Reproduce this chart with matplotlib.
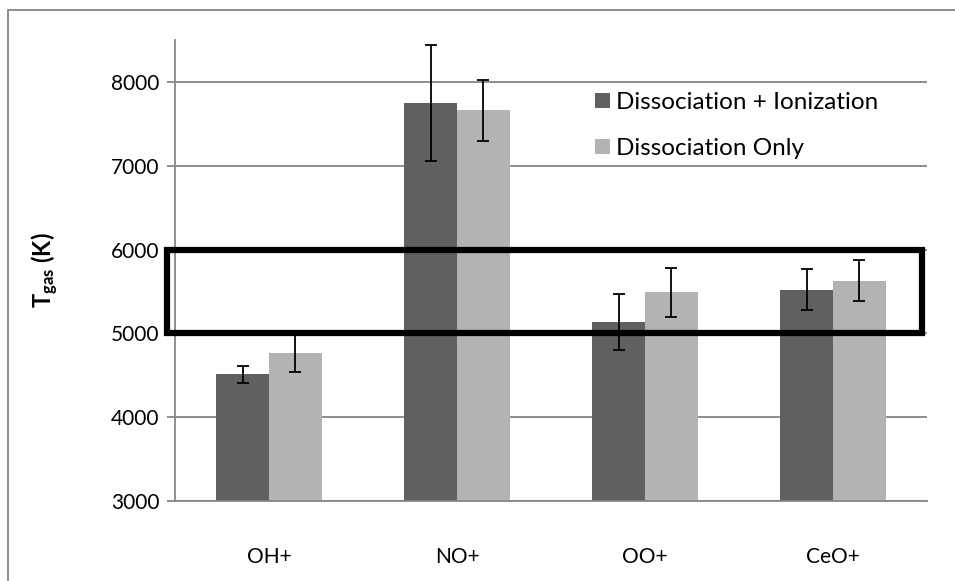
import matplotlib.pyplot as plt
import numpy as np
from matplotlib.patches import Rectangle

categories = ['OH+', 'NO+', 'OO+', 'CeO+']
ion_vals = [4510, 7750, 5140, 5520]
ion_err = [105, 690, 335, 245]
only_vals = [4760, 7660, 5490, 5630]
only_err = [220, 360, 295, 240]
labels = ['Dissociation + Ionization', 'Dissociation Only']

plt.rcParams['font.family'] = ['Lato', 'DejaVu Sans']
plt.rcParams['mathtext.fontset'] = 'custom'
plt.rcParams['mathtext.bf'] = 'Lato:bold'
plt.rcParams['mathtext.rm'] = 'Lato'

fig = plt.figure(figsize=(9.55, 5.81), dpi=100)
ax = fig.add_axes([0.1832, 0.1377, 0.7875, 0.7935])

x = np.arange(len(categories))
w = 0.28
ax.bar(x - w / 2, ion_vals, w, color='#606060', label=labels[0], zorder=2)
ax.bar(x + w / 2, only_vals, w, color='#b3b3b3', label=labels[1], zorder=2)
ax.errorbar(x - w / 2, ion_vals, yerr=ion_err, fmt='none', ecolor='black',
            elinewidth=1.3, capsize=4.3, capthick=1.3, zorder=3)
ax.errorbar(x + w / 2, only_vals, yerr=only_err, fmt='none', ecolor='black',
            elinewidth=1.3, capsize=4.3, capthick=1.3, zorder=3)

# highlighted range 5000-6000 K
ax.add_patch(Rectangle((-0.54, 5000), 4.015, 1000, fill=False,
                       edgecolor='black', linewidth=4.5, zorder=4, clip_on=False))

ax.set_xlim(-0.5, 3.5)
ax.set_ylim(3000, 8500)
ax.set_yticks([3000, 4000, 5000, 6000, 7000, 8000])
ax.set_xticks(x)
ax.set_xticklabels(categories)
ax.yaxis.grid(True, color='#868686', linewidth=1.3, zorder=0)
ax.set_axisbelow(True)
for s in ['top', 'right']:
    ax.spines[s].set_visible(False)
for s in ['left', 'bottom']:
    ax.spines[s].set_color('#868686')
    ax.spines[s].set_linewidth(1.3)
ax.tick_params(axis='y', length=6, color='#868686', width=1.3, labelsize=15, pad=5)
ax.tick_params(axis='x', length=0, labelsize=15, pad=33)

ax.set_ylabel(r'$\mathbf{T_{gas}}$ $\mathbf{(K)}$', fontsize=17, labelpad=36)

ax.legend(loc='upper left', bbox_to_anchor=(0.53, 0.935), frameon=False,
          fontsize=17.5, handlelength=0.6, handleheight=0.6,
          handletextpad=0.25, labelspacing=1.05)

# outer chart frame
fig.patches.append(Rectangle((8 / 955, -0.1), 2, 1 - 10 / 581 + 0.1, fill=False,
                             edgecolor='#868686', linewidth=1.3,
                             transform=fig.transFigure, figure=fig))

fig.savefig('out.png', dpi=100)
